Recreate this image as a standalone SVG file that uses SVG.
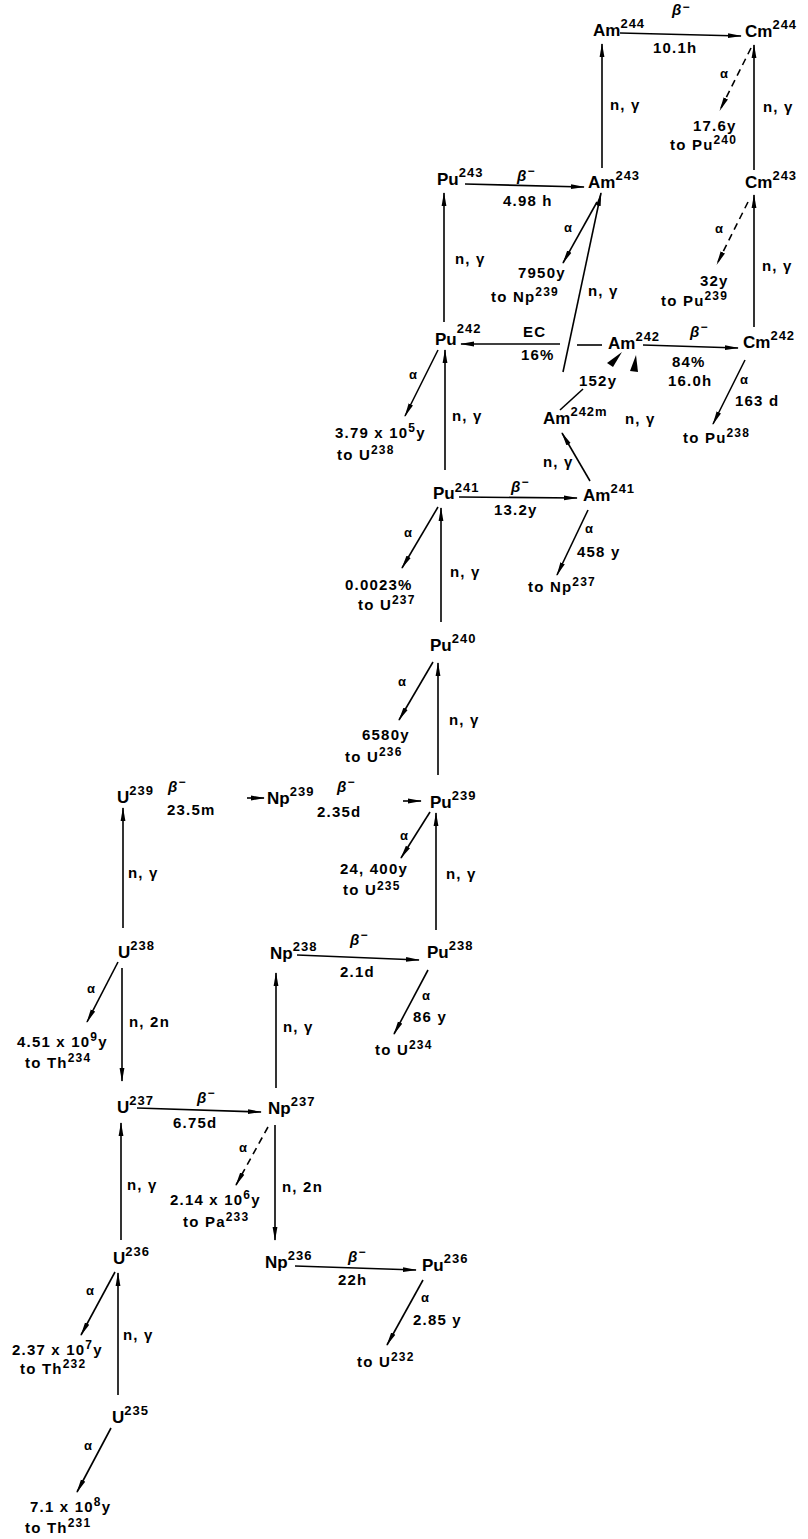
<svg xmlns="http://www.w3.org/2000/svg" width="808" height="1539" viewBox="0 0 808 1539">
<defs>
<marker id="ah" viewBox="0 0 14 6" markerWidth="14" markerHeight="6" refX="13" refY="3" orient="auto" markerUnits="userSpaceOnUse"><path d="M0,0.6 L14,3 L0,5.4 z" fill="#000"/></marker>
<style>
.n{font-family:'Liberation Sans',Arial,sans-serif;font-weight:bold;font-size:17px;fill:#000}
.n tspan{font-size:13px;letter-spacing:1px}
.l{font-family:'Liberation Sans',Arial,sans-serif;font-weight:bold;font-size:15px;letter-spacing:1.2px;fill:#000}
.l .s{font-size:12px}
.b{font-style:italic}
.a{font-size:13px}
.c{stroke:#000;stroke-width:1.6;fill:none;marker-end:url(#ah)}
.p{stroke:#000;stroke-width:1.6;fill:none}
.d{stroke-dasharray:7 5}
</style>
</defs>
<rect width="808" height="1539" fill="#fff"/>

<g id="connectors">
<path class="c" d="M620,33 L741,36"/>
<path class="c" d="M602,168 L602,44"/>
<path class="c" d="M754,170 L754,45"/>
<path class="c d" d="M751,48 L720,110"/>
<path class="c" d="M465,184 L584,187"/>
<path class="c" d="M444,322 L444,193"/>
<path class="c" d="M597,202 L563,263"/>
<path class="c" d="M563,372 L601,193"/>
<path class="c d" d="M748,202 L717,264"/>
<path class="c" d="M754,327 L754,195"/>
<path class="c" d="M560,344 L461,344"/>
<path class="p" d="M577,345 L602,345"/>
<path class="c" d="M643,345 L738,348"/>
<path class="c" d="M745,360 L713,424"/>
<path class="c" d="M438,350 L405,416"/>
<path class="c" d="M445,470 L445,350"/>
<path class="p" d="M560,410 L583,389"/>
<polygon points="622,352 613,367 607,363" fill="#000"/>
<polygon points="636,355 638,372 630,371" fill="#000"/>
<path class="c" d="M590,481 L562,433"/>
<path class="c" d="M459,497 L577,498"/>
<path class="c" d="M588,510 L557,575"/>
<path class="c" d="M438,507 L402,568"/>
<path class="c" d="M441,622 L441,508"/>
<path class="c" d="M433,662 L399,720"/>
<path class="c" d="M438,775 L438,663"/>
<path class="c" d="M247,798 L264,798"/>
<path class="c" d="M403,801 L421,801"/>
<path class="c" d="M430,812 L401,858"/>
<path class="c" d="M123,928 L123,808"/>
<path class="c" d="M436,930 L436,813"/>
<path class="c" d="M118,962 L87,1022"/>
<path class="c" d="M122,968 L122,1081"/>
<path class="c" d="M137,1108 L261,1112"/>
<path class="c" d="M276,1088 L276,973"/>
<path class="c" d="M297,955 L419,960"/>
<path class="c" d="M428,970 L394,1034"/>
<path class="c d" d="M268,1127 L236,1185"/>
<path class="c" d="M121,1240 L121,1123"/>
<path class="c" d="M275,1125 L275,1240"/>
<path class="c" d="M115,1272 L81,1335"/>
<path class="c" d="M118,1395 L118,1273"/>
<path class="c" d="M111,1428 L77,1492"/>
<path class="c" d="M295,1266 L416,1270"/>
<path class="c" d="M423,1280 L387,1345"/>
</g>

<g id="nodes">
<g id="Am244"><text class="n" x="593" y="36">Am<tspan dy="-8">244</tspan></text></g>
<g id="Cm244"><text class="n" x="745" y="37">Cm<tspan dy="-8">244</tspan></text></g>
<g id="Pu243"><text class="n" x="437" y="185">Pu<tspan dy="-8">243</tspan></text></g>
<g id="Am243"><text class="n" x="588" y="188">Am<tspan dy="-8">243</tspan></text></g>
<g id="Cm243"><text class="n" x="745" y="188">Cm<tspan dy="-8">243</tspan></text></g>
<g id="Pu242"><text class="n" x="435" y="345">Pu<tspan dy="-12">242</tspan></text></g>
<g id="Am242"><text class="n" x="608" y="349">Am<tspan dy="-8">242</tspan></text></g>
<g id="Cm242"><text class="n" x="743" y="348">Cm<tspan dy="-8">242</tspan></text></g>
<g id="Am242m"><text class="n" x="543" y="424">Am<tspan dy="-8">242m</tspan></text></g>
<g id="Pu241"><text class="n" x="433" y="499">Pu<tspan dy="-7">241</tspan></text></g>
<g id="Am241"><text class="n" x="583" y="501">Am<tspan dy="-8">241</tspan></text></g>
<g id="Pu240"><text class="n" x="430" y="651">Pu<tspan dy="-8">240</tspan></text></g>
<g id="U239"><text class="n" x="117" y="803">U<tspan dy="-8">239</tspan></text></g>
<g id="Np239"><text class="n" x="267" y="804">Np<tspan dy="-8">239</tspan></text></g>
<g id="Pu239"><text class="n" x="430" y="808">Pu<tspan dy="-8">239</tspan></text></g>
<g id="U238"><text class="n" x="118" y="958">U<tspan dy="-8">238</tspan></text></g>
<g id="Np238"><text class="n" x="270" y="959">Np<tspan dy="-8">238</tspan></text></g>
<g id="Pu238"><text class="n" x="427" y="958">Pu<tspan dy="-8">238</tspan></text></g>
<g id="U237"><text class="n" x="117" y="1113">U<tspan dy="-8">237</tspan></text></g>
<g id="Np237"><text class="n" x="268" y="1114">Np<tspan dy="-8">237</tspan></text></g>
<g id="U236"><text class="n" x="113" y="1264">U<tspan dy="-8">236</tspan></text></g>
<g id="Np236"><text class="n" x="265" y="1268">Np<tspan dy="-8">236</tspan></text></g>
<g id="Pu236"><text class="n" x="422" y="1271">Pu<tspan dy="-8">236</tspan></text></g>
<g id="U235"><text class="n" x="112" y="1423">U<tspan dy="-8">235</tspan></text></g>
</g>

<g id="labels">
<text class="l" x="672" y="15"><tspan class="b">β</tspan><tspan class="s" dy="-4">−</tspan></text>
<text class="l" x="653" y="53">10.1h</text>
<text class="l" x="610" y="110">n, γ</text>
<text class="l" x="763" y="112">n, γ</text>
<text class="l a" x="720" y="78">α</text>
<text class="l" x="693" y="131">17.6y</text>
<text class="l" x="670" y="150">to Pu<tspan class="s" dy="-6">240</tspan></text>

<text class="l" x="517" y="181"><tspan class="b">β</tspan><tspan class="s" dy="-6">−</tspan></text>
<text class="l" x="503" y="206">4.98 h</text>
<text class="l" x="455" y="264">n, γ</text>
<text class="l a" x="564" y="232">α</text>
<text class="l" x="518" y="278">7950y</text>
<text class="l" x="491" y="302">to Np<tspan class="s" dy="-6">239</tspan></text>
<text class="l" x="588" y="296">n, γ</text>
<text class="l a" x="715" y="233">α</text>
<text class="l" x="700" y="286">32y</text>
<text class="l" x="661" y="306">to Pu<tspan class="s" dy="-6">239</tspan></text>
<text class="l" x="762" y="271">n, γ</text>

<text class="l" x="523" y="337">EC</text>
<text class="l" x="521" y="360">16%</text>
<text class="l" x="690" y="337"><tspan class="b">β</tspan><tspan class="s" dy="-6">−</tspan></text>
<text class="l" x="672" y="367">84%</text>
<text class="l" x="668" y="386">16.0h</text>
<text class="l a" x="740" y="384">α</text>
<text class="l" x="735" y="406">163 d</text>
<text class="l" x="683" y="443">to Pu<tspan class="s" dy="-6">238</tspan></text>
<text class="l a" x="409" y="379">α</text>
<text class="l" x="335" y="438">3.79 x 10<tspan class="s" dy="-6">5</tspan><tspan dy="6">y</tspan></text>
<text class="l" x="337" y="460">to U<tspan class="s" dy="-6">238</tspan></text>
<text class="l" x="452" y="421">n, γ</text>
<text class="l" x="579" y="386">152y</text>
<text class="l" x="625" y="424">n, γ</text>
<text class="l" x="543" y="467">n, γ</text>

<text class="l" x="511" y="492"><tspan class="b">β</tspan><tspan class="s" dy="-6">−</tspan></text>
<text class="l" x="494" y="515">13.2y</text>
<text class="l a" x="585" y="533">α</text>
<text class="l" x="577" y="557">458 y</text>
<text class="l" x="528" y="592">to Np<tspan class="s" dy="-6">237</tspan></text>
<text class="l a" x="404" y="537">α</text>
<text class="l" x="345" y="590">0.0023%</text>
<text class="l" x="358" y="610">to U<tspan class="s" dy="-6">237</tspan></text>
<text class="l" x="450" y="577">n, γ</text>

<text class="l a" x="398" y="686">α</text>
<text class="l" x="362" y="740">6580y</text>
<text class="l" x="345" y="762">to U<tspan class="s" dy="-6">236</tspan></text>
<text class="l" x="449" y="725">n, γ</text>

<text class="l" x="168" y="792"><tspan class="b">β</tspan><tspan class="s" dy="-6">−</tspan></text>
<text class="l" x="167" y="815">23.5m</text>
<text class="l" x="337" y="792"><tspan class="b">β</tspan><tspan class="s" dy="-6">−</tspan></text>
<text class="l" x="317" y="817">2.35d</text>
<text class="l a" x="400" y="840">α</text>
<text class="l" x="340" y="874">24, 400y</text>
<text class="l" x="343" y="895">to U<tspan class="s" dy="-5">235</tspan></text>
<text class="l" x="128" y="878">n, γ</text>
<text class="l" x="446" y="879">n, γ</text>

<text class="l a" x="87" y="993">α</text>
<text class="l" x="17" y="1047">4.51 x 10<tspan class="s" dy="-6">9</tspan><tspan dy="6">y</tspan></text>
<text class="l" x="25" y="1068">to Th<tspan class="s" dy="-6">234</tspan></text>
<text class="l" x="129" y="1027">n, 2n</text>
<text class="l" x="197" y="1103"><tspan class="b">β</tspan><tspan class="s" dy="-6">−</tspan></text>
<text class="l" x="173" y="1128">6.75d</text>
<text class="l" x="283" y="1032">n, γ</text>
<text class="l" x="350" y="945"><tspan class="b">β</tspan><tspan class="s" dy="-6">−</tspan></text>
<text class="l" x="340" y="977">2.1d</text>
<text class="l a" x="422" y="1000">α</text>
<text class="l" x="413" y="1022">86 y</text>
<text class="l" x="375" y="1055">to U<tspan class="s" dy="-6">234</tspan></text>

<text class="l a" x="239" y="1152">α</text>
<text class="l" x="170" y="1205">2.14 x 10<tspan class="s" dy="-6">6</tspan><tspan dy="6">y</tspan></text>
<text class="l" x="183" y="1227">to Pa<tspan class="s" dy="-6">233</tspan></text>
<text class="l" x="127" y="1190">n, γ</text>
<text class="l" x="282" y="1192">n, 2n</text>

<text class="l a" x="86" y="1295">α</text>
<text class="l" x="12" y="1355">2.37 x 10<tspan class="s" dy="-6">7</tspan><tspan dy="6">y</tspan></text>
<text class="l" x="20" y="1374">to Th<tspan class="s" dy="-6">232</tspan></text>
<text class="l" x="123" y="1340">n, γ</text>
<text class="l a" x="84" y="1450">α</text>
<text class="l" x="30" y="1512">7.1 x 10<tspan class="s" dy="-6">8</tspan><tspan dy="6">y</tspan></text>
<text class="l" x="25" y="1533">to Th<tspan class="s" dy="-6">231</tspan></text>
<text class="l" x="348" y="1262"><tspan class="b">β</tspan><tspan class="s" dy="-6">−</tspan></text>
<text class="l" x="338" y="1285">22h</text>
<text class="l a" x="421" y="1302">α</text>
<text class="l" x="413" y="1325">2.85 y</text>
<text class="l" x="357" y="1367">to U<tspan class="s" dy="-6">232</tspan></text>
</g>
</svg>
